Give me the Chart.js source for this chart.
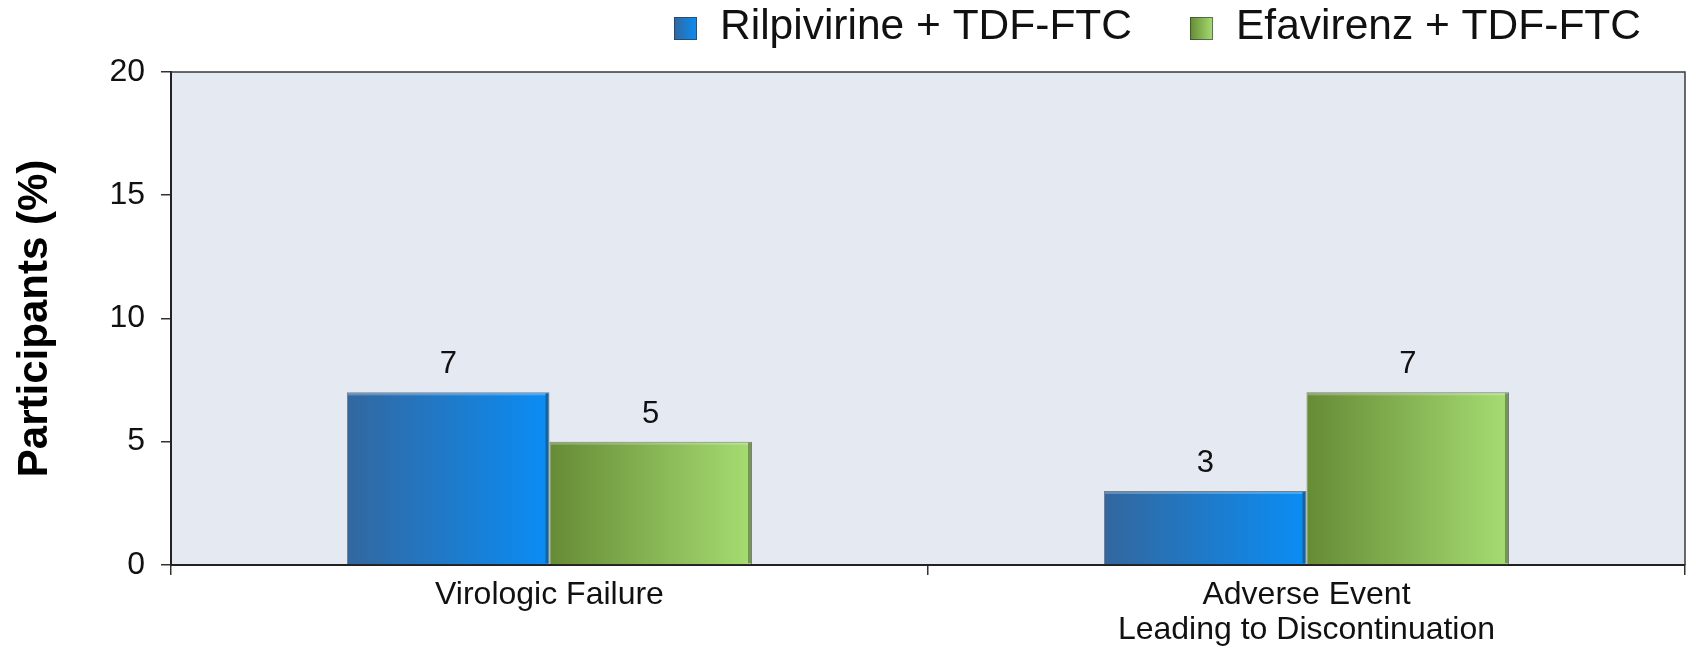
<!DOCTYPE html>
<html>
<head>
<meta charset="utf-8">
<script src="https://cdn.jsdelivr.net/npm/chart.js@4.4.1/dist/chart.umd.min.js"></script>
<style>
  html, body { margin: 0; padding: 0; background: #ffffff; }
  #wrap { width: 1696px; height: 650px; }
</style>
</head>
<body>
<div id="wrap"><canvas id="chart"></canvas></div>
<script>
// datos del gráfico
const categories = ['Virologic Failure', ['Adverse Event', 'Leading to Discontinuation']];
const seriesNames = ['Rilpivirine + TDF-FTC', 'Efavirenz + TDF-FTC'];
const rilpivirine = [7, 3];
const efavirenz = [5, 7];
const yTicks = [0, 5, 10, 15, 20];

// colores (izquierda -> derecha del degradado)
const gradStops = [
    ['#33679e', '#0a8df5'],
    ['#668b35', '#a6dc72']
];
const flatColors = ['#1b78d2', '#86b556'];

const fontFamily = '"Liberation Sans", Arial, sans-serif';

function barFill(ctx, di, x0, x1) {
    const g = ctx.createLinearGradient(x0, 0, x1, 0);
    g.addColorStop(0, gradStops[di][0]);
    g.addColorStop(1, gradStops[di][1]);
    return g;
}

// fondo del área de trazado y marco
const plotArea = {
    id: 'plotArea',
    beforeDraw(chart) {
        const { ctx, chartArea: a } = chart;
        ctx.save();
        ctx.fillStyle = '#e4e9f2';
        ctx.fillRect(a.left, a.top, a.right - a.left, a.bottom - a.top);
        ctx.restore();
    },
    afterDraw(chart) {
        const { ctx, chartArea: a } = chart;
        ctx.save();
        ctx.strokeStyle = '#3a3a3a';
        ctx.lineWidth = 1.5;
        ctx.beginPath();
        ctx.moveTo(a.left, a.top);
        ctx.lineTo(a.right, a.top);
        ctx.lineTo(a.right, a.bottom);
        ctx.stroke();
        ctx.restore();
    }
};

// degradado horizontal en cada barra + un poco de relieve
const barGradient = {
    id: 'barGradient',
    beforeDatasetsDraw(chart) {
        const { ctx } = chart;
        chart.data.datasets.forEach((ds, di) => {
            chart.getDatasetMeta(di).data.forEach(bar => {
                const p = bar.getProps(['x', 'width'], true);
                bar.options.backgroundColor = barFill(ctx, di, p.x - p.width / 2, p.x + p.width / 2);
            });
        });
    },
    afterDatasetsDraw(chart) {
        const { ctx } = chart;
        ctx.save();
        chart.data.datasets.forEach((ds, di) => {
            chart.getDatasetMeta(di).data.forEach(bar => {
                const p = bar.getProps(['x', 'y', 'base', 'width'], true);
                const right = p.x + p.width / 2;
                const left = p.x - p.width / 2;
                ctx.fillStyle = 'rgba(20, 30, 20, 0.35)';
                ctx.fillRect(right - 4, p.y + 1, 3, p.base - p.y - 2);
                ctx.fillStyle = 'rgba(255, 255, 255, 0.25)';
                ctx.fillRect(left + 1, p.y + 1, p.width - 5, 2);
            });
        });
        ctx.restore();
    }
};

// etiquetas de valores encima de las barras
const valueLabels = {
    id: 'valueLabels',
    afterDatasetsDraw(chart) {
        const { ctx } = chart;
        ctx.save();
        ctx.font = '31px ' + fontFamily;
        ctx.fillStyle = '#111111';
        ctx.textAlign = 'center';
        ctx.textBaseline = 'alphabetic';
        chart.data.datasets.forEach((ds, di) => {
            chart.getDatasetMeta(di).data.forEach((bar, i) => {
                const p = bar.getProps(['x', 'y'], true);
                ctx.fillText(String(ds.data[i]), p.x, p.y - 19);
            });
        });
        ctx.restore();
    }
};

// leyenda arriba a la derecha
const topLegend = {
    id: 'topLegend',
    afterDraw(chart) {
        const { ctx } = chart;
        const box = 23, gapBox = 23, gapItem = 58, cy = 28.5;
        ctx.save();
        ctx.font = '42.5px ' + fontFamily;
        const widths = chart.data.datasets.map(ds => ctx.measureText(ds.label).width);
        let total = 0;
        widths.forEach((w, i) => { total += box + gapBox + w + (i ? gapItem : 0); });
        let x = chart.width - 55 - total;
        chart.data.datasets.forEach((ds, di) => {
            ctx.fillStyle = barFill(ctx, di, x, x + box);
            ctx.fillRect(x, cy - box / 2, box, box);
            ctx.strokeStyle = 'rgba(40, 50, 60, 0.6)';
            ctx.lineWidth = 1;
            ctx.strokeRect(x + 0.5, cy - box / 2 + 0.5, box - 1, box - 1);
            x += box + gapBox;
            ctx.fillStyle = '#111111';
            ctx.textAlign = 'left';
            ctx.textBaseline = 'alphabetic';
            ctx.fillText(ds.label, x, 39);
            x += widths[di] + gapItem;
        });
        ctx.restore();
    }
};

const chart = new Chart(document.getElementById('chart').getContext('2d'), {
    type: 'bar',
    data: {
        labels: categories,
        datasets: [{
            label: seriesNames[0],
            data: rilpivirine,
            backgroundColor: ctx => flatColors[0],
            borderColor: 'rgba(30, 40, 50, 0.55)',
            borderWidth: 1
        }, {
            label: seriesNames[1],
            data: efavirenz,
            backgroundColor: ctx => flatColors[1],
            borderColor: 'rgba(30, 40, 20, 0.55)',
            borderWidth: 1
        }]
    },
    options: {
        responsive: true,
        maintainAspectRatio: false,
        animation: false,
        layout: {
            padding: { left: 10, right: 11, top: 72, bottom: 0 }
        },
        datasets: {
            bar: {
                categoryPercentage: 0.535,
                barPercentage: 1.0
            }
        },
        plugins: {
            tooltip: { enabled: false },
            legend: { display: false }
        },
        scales: {
            x: {
                grid: {
                    display: true,
                    drawOnChartArea: false,
                    drawTicks: true,
                    tickLength: 10,
                    color: '#333333',
                    lineWidth: 1.5
                },
                border: { display: true, color: '#222222', width: 2 },
                ticks: {
                    color: '#111111',
                    padding: 3,
                    font: { size: 32, family: fontFamily, lineHeight: 1.08 }
                }
            },
            y: {
                min: 0,
                max: 20,
                afterBuildTicks(axis) {
                    axis.ticks = yTicks.map(v => ({ value: v }));
                },
                grid: {
                    display: true,
                    drawOnChartArea: false,
                    drawTicks: true,
                    tickLength: 10,
                    color: '#333333',
                    lineWidth: 1.5
                },
                border: { display: true, color: '#222222', width: 2 },
                ticks: {
                    color: '#111111',
                    padding: 16,
                    font: { size: 32, family: fontFamily }
                },
                title: {
                    display: true,
                    text: 'Participants (%)',
                    color: '#000000',
                    padding: { top: 0, bottom: 33 },
                    font: { size: 42, weight: 'bold', family: fontFamily }
                }
            }
        }
    },
    plugins: [plotArea, barGradient, valueLabels, topLegend]
});
</script>
</body>
</html>
